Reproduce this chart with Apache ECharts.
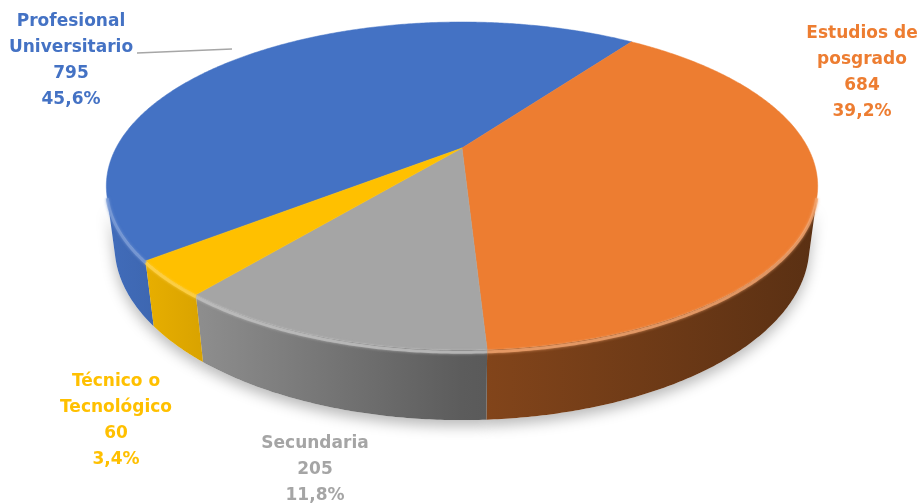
<!DOCTYPE html>
<html>
<head>
<meta charset="utf-8">
<script src="https://cdn.jsdelivr.net/npm/echarts@6/dist/echarts.min.js"></script>
<style>
  html, body { margin: 0; padding: 0; background: #ffffff; }
  #chart { width: 923px; height: 504px; }
</style>
</head>
<body>
<div id="chart"></div>
<script>
// ---- data ----
const categories = ['Profesional Universitario', 'Estudios de posgrado', 'Secundaria', 'Técnico o Tecnológico'];
const labelNames = ['Profesional\nUniversitario', 'Estudios de\nposgrado', 'Secundaria', 'Técnico o\nTecnológico'];
const values = [795, 684, 205, 60];

// ---- style ----
const colors = ['#4472C4', '#ED7D31', '#A5A5A5', '#FFC000'];
const FONT = 'bold 17px "DejaVu Sans", sans-serif';

// perspective view of a flat cylinder (radius 1, thickness = depth)
const view = { cx: 462, cy: 148, f: 1334.5, d: 3.857, pitch: 26.65, depth: 0.194, startAngle: 231.5 };

// label block centres and the single leader line
const labelLayout = [
  { x: 71, y: 61, line: [[137, 53], [232, 49]] },
  { x: 862, y: 73 },
  { x: 315, y: 470 },
  { x: 116, y: 421 }
];

const total = values.reduce((a, b) => a + b, 0);
const sinP = Math.sin(view.pitch * Math.PI / 180);
const cosP = Math.cos(view.pitch * Math.PI / 180);

function projectXYZ(X, Y, Z) {
  const yc = Y * cosP - Z * sinP;
  const zc = view.d - (Y * sinP + Z * cosP);
  return [view.cx + view.f * X / zc, view.cy - view.f * yc / zc];
}
// alpha: degrees clockwise from the far side of the disc
function rimPoint(alphaDeg, Y) {
  const a = alphaDeg * Math.PI / 180;
  return projectXYZ(Math.sin(a), Y, -Math.cos(a));
}
function arc(a0, a1, Y) {
  const pts = [];
  const n = Math.max(2, Math.ceil(Math.abs(a1 - a0) / 0.5));
  for (let k = 0; k <= n; k++) pts.push(rimPoint(a0 + (a1 - a0) * k / n, Y));
  return pts;
}

// silhouette angles of the outer wall
const silA = Math.acos(-1 / (view.d * cosP)) * 180 / Math.PI;
const visRanges = [[silA, 360 - silA], [silA + 360, 720 - silA]];

// horizontal extent of the disc for wall shading
let minX = Infinity, maxX = -Infinity;
for (let a = 0; a < 360; a += 0.5) {
  const p = rimPoint(a, 0);
  minX = Math.min(minX, p[0]); maxX = Math.max(maxX, p[0]);
}

function hexToRgb(h) {
  const n = parseInt(h.slice(1), 16);
  return [(n >> 16) & 255, (n >> 8) & 255, n & 255];
}
function shade(h, m) {
  const c = hexToRgb(h).map(v => Math.round(Math.min(255, v * m)));
  return 'rgb(' + c.join(',') + ')';
}
function tint(h, t) {
  const c = hexToRgb(h).map(v => Math.round(v + (255 - v) * t));
  return 'rgb(' + c.join(',') + ')';
}
function fmtPct(v) {
  return (v / total * 100).toFixed(1).replace('.', ',') + '%';
}

// start angle of each slice from the cumulative values
const starts = [];
values.reduce((acc, v, i) => { starts[i] = view.startAngle + acc / total * 360; return acc + v; }, 0);

function renderItem(params, api) {
  const i = params.dataIndex;
  const v = api.value(0);
  const a0 = starts[i];
  const a1 = a0 + v / total * 360;
  const col = colors[i];
  const h = -view.depth;
  const children = [];

  // outer wall (only the part facing the viewer)
  visRanges.forEach(r => {
    const b0 = Math.max(a0, r[0]);
    const b1 = Math.min(a1, r[1]);
    if (b1 <= b0) return;
    const top = arc(b0, b1, 0);
    const bottom = arc(b1, b0, h);
    const poly = top.concat(bottom);
    children.push({
      type: 'polygon', z2: 0,
      shape: { points: poly },
      style: { fill: '#ffffff', shadowBlur: 14, shadowColor: 'rgba(0,0,0,0.28)', shadowOffsetY: 6 }
    });
    children.push({
      type: 'polygon', z2: 1,
      shape: { points: poly },
      style: {
        fill: new echarts.graphic.LinearGradient(minX, 0, maxX, 0, [
          { offset: 0, color: shade(col, 0.95) },
          { offset: 0.15, color: shade(col, 0.84) },
          { offset: 0.5, color: shade(col, 0.56) },
          { offset: 1, color: shade(col, 0.38) }
        ], true)
      }
    });
    // soft bevel highlight along the front rim
    children.push({
      type: 'polyline', z2: 3,
      shape: { points: arc(b0, b1, -0.006) },
      style: { stroke: tint(col, 0.3), lineWidth: 3, opacity: 0.75, fill: null, shadowBlur: 3, shadowColor: tint(col, 0.3) }
    });
  });

  // top face
  const topPts = [projectXYZ(0, 0, 0)].concat(arc(a0, a1, 0));
  children.push({
    type: 'polygon', z2: 2,
    shape: { points: topPts },
    style: { fill: col, stroke: col, lineWidth: 0.5 }
  });

  // data label
  const L = labelLayout[i];
  children.push({
    type: 'text', z2: 5,
    x: L.x, y: L.y,
    style: {
      text: labelNames[i] + '\n' + v + '\n' + fmtPct(v),
      fill: col, font: FONT, align: 'center', verticalAlign: 'middle', lineHeight: 26
    }
  });
  if (L.line) {
    children.push({
      type: 'line', z2: 5,
      shape: { x1: L.line[0][0], y1: L.line[0][1], x2: L.line[1][0], y2: L.line[1][1] },
      style: { stroke: '#A6A6A6', lineWidth: 1.5 }
    });
  }
  return { type: 'group', children: children };
}

const chart = echarts.init(document.getElementById('chart'), null, { renderer: 'canvas' });
chart.setOption({
  backgroundColor: '#ffffff',
  animation: false,
  series: [{
    type: 'custom',
    coordinateSystem: 'none',
    silent: true,
    renderItem: renderItem,
    data: values.map((v, i) => ({ name: categories[i], value: [v] }))
  }]
});
</script>
</body>
</html>
